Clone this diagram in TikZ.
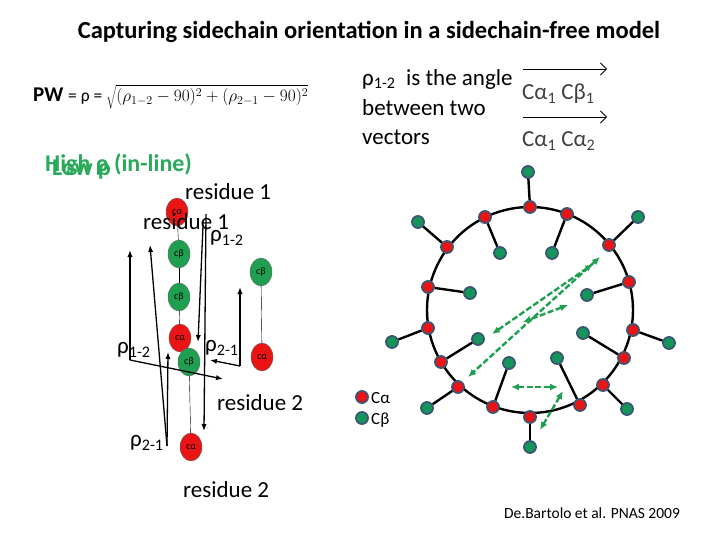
\documentclass[tikz,border=0pt]{standalone}
\usepackage{fontspec}
\setmainfont{Carlito}
\usetikzlibrary{arrows.meta,shapes.geometric}
\definecolor{myred}{RGB}{235,20,20}
\definecolor{mygreen}{RGB}{30,160,80}
\definecolor{dotgreen}{RGB}{20,150,90}
\definecolor{rim}{RGB}{60,85,115}
\definecolor{tgreen}{RGB}{40,170,90}
\tikzset{
 ca/.style={circle,fill=myred,draw=rim,line width=1.8pt,minimum size=12pt,inner sep=0pt},
 cb/.style={circle,fill=dotgreen,draw=rim,line width=1.8pt,minimum size=12pt,inner sep=0pt},
 bond/.style={line width=2.4pt},
 ea/.style={ellipse,fill=myred,draw=black!60,thin,minimum width=22pt,minimum height=28pt,inner sep=0pt,font=\fontsize{10}{10}\selectfont},
 eb/.style={ellipse,fill=mygreen,draw=black!60,thin,minimum width=22pt,minimum height=28pt,inner sep=0pt,font=\fontsize{10}{10}\selectfont},
 gar/.style={{Latex[length=8pt,width=7pt]}-{Latex[length=8pt,width=7pt]},dash pattern=on 6pt off 2.5pt,line width=2.4pt,draw=mygreen},
 bar/.style={-{Latex[length=7pt]},line width=1.3pt},
 lab/.style={font=\fontsize{23}{23}\selectfont,inner sep=0pt},
}
\begin{document}
\begin{tikzpicture}[x=1pt,y=-1pt]
\useasboundingbox (0,0) rectangle (720,540);
\node[font=\bfseries\fontsize{24.5}{24.5}\selectfont] (title) at (369,32) {Capturing sidechain orientation in a sidechain-free model};
\node[anchor=west,inner sep=0pt] (pw) at (33,97) {\fontsize{21}{21}\selectfont\textbf{PW} {\fontsize{17.5}{17.5}\selectfont = ρ = $\sqrt{(\rho_{1-2}-90)^2+(\rho_{2-1}-90)^2}$}};
\node[lab,anchor=west] (t1) at (362,79) {ρ\textsubscript{1-2}\ \ is the angle};
\node[lab,anchor=west] (t2) at (362,108) {between two};
\node[lab,anchor=west] (t3) at (362,137) {vectors};
\node[lab,anchor=west,text=black!75] (v1) at (522,94) {Cα\textsubscript{1} Cβ\textsubscript{1}};
\node[lab,anchor=west,text=black!75] (v2) at (522,141) {Cα\textsubscript{1} Cα\textsubscript{2}};
\coordinate (v1a) at (523,69); \coordinate (v1b) at (607,69);
\coordinate (v2a) at (523,117); \coordinate (v2b) at (607,117);
\draw[-{Straight Barb[length=6pt]},thick] (v1a) -- (v1b);
\draw[-{Straight Barb[length=6pt]},thick] (v2a) -- (v2b);
\node[anchor=west,text=tgreen,font=\bfseries\fontsize{24}{24}\selectfont,inner sep=0pt] (hi) at (45,165) {High ρ (in-line)};
\node[anchor=west,text=tgreen,font=\bfseries\fontsize{24}{24}\selectfont,inner sep=0pt] (lo) at (52,170) {Low ρ};
% left diagram
\node[lab,anchor=west] (r1a) at (185,192) {residue 1};
\node[ea] (ca1) at (177,212) {cα};
\node[lab,anchor=west] (r1b) at (143,222) {residue 1};
\node[lab,anchor=west] (p12a) at (210,238) {ρ\textsubscript{1-2}};
\node[eb] (cb1) at (179,254) {cβ};
\node[eb] (cb2) at (179,297) {cβ};
\node[ea] (ca2) at (180,338) {cα};
\node[eb] (cb3) at (189,362) {cβ};
\node[ea] (ca3) at (191,447) {cα};
\node[eb] (cb4) at (261,272) {cβ};
\node[ea] (ca4) at (262,357) {cα};
\draw (ca1) -- (cb1); \draw (cb1) -- (cb2); \draw (cb2) -- (ca2);
\draw (cb3) -- (ca3); \draw (cb4) -- (ca4);
\coordinate (a1s) at (206,214); \coordinate (a1e) at (204,431);
\draw[bar] (a1s) -- (a1e);
\coordinate (a2s) at (203,226); \coordinate (a2e) at (198,342);
\draw[bar] (a2s) -- (a2e);
\coordinate (v3) at (130,360); \coordinate (v3u) at (130,250); \coordinate (v3r) at (223,379);
\draw[bar] (v3) -- (v3u); \draw[bar] (v3) -- (v3r);
\coordinate (v4) at (167,446); \coordinate (v4u) at (150,245); \coordinate (v4r) at (168,352);
\draw[bar] (v4) -- (v4u); \draw[bar] (v4) -- (v4r);
\coordinate (v5) at (240,366); \coordinate (v5u) at (240,287); \coordinate (v5l) at (210,360);
\draw[bar] (v5) -- (v5u); \draw[bar] (v5) -- (v5l);
\node[lab,anchor=west] (p12b) at (117,350) {ρ\textsubscript{1-2}};
\node[lab,anchor=west] (p21a) at (205,348) {ρ\textsubscript{2-1}};
\node[lab,anchor=west] (p21b) at (130,443) {ρ\textsubscript{2-1}};
\node[lab,anchor=west] (r2a) at (217,403) {residue 2};
\node[lab,anchor=west] (r2b) at (183,490) {residue 2};
\node[font=\tiny,inner sep=0pt] (cm) at (208,429) {,};
% circle
\draw[line width=2.4pt] (530,310) circle (103);
\foreach \n/\ax/\ay/\bx/\by in {a/530/207/528/172, b/485/217/500/253, c/567/214/552/253, d/447/247/418/222, e/609/245/638/217, f/428/287/470/293, g/629/282/587/295, h/428/328/392/342, i/633/330/669/343, j/441/362/478/339, k/624/358/583/333, l/458/387/427/408, m/603/385/627/409, n/493/407/509/363, o/580/405/557/358, p/530/417/530/447}{
  \node[ca] (A\n) at (\ax,\ay) {};
  \node[cb] (B\n) at (\bx,\by) {};
  \draw[bond] (A\n) -- (B\n);
}
\coordinate (g1a) at (600,257); \coordinate (g1b) at (468,377);
\coordinate (g2a) at (593,264); \coordinate (g2b) at (492,334);
\coordinate (g3a) at (568,305); \coordinate (g3b) at (523,322);
\coordinate (g4a) at (511,387); \coordinate (g4b) at (558,387);
\coordinate (g5a) at (563,391); \coordinate (g5b) at (540,430);
\foreach \i in {1,...,5} \draw[gar] (g\i a) -- (g\i b);
\node[ca] (LA) at (362,397) {}; \node[lab,anchor=west,font=\fontsize{17}{17}\selectfont] (LAt) at (371,398) {Cα};
\node[cb] (LB) at (362,418) {}; \node[lab,anchor=west,font=\fontsize{17}{17}\selectfont] (LBt) at (371,420) {Cβ};
\node[font=\fontsize{15.5}{15.5}\selectfont,inner sep=0pt] (cred) at (592,513) {De.Bartolo et al. PNAS 2009};
\end{tikzpicture}
\end{document}
